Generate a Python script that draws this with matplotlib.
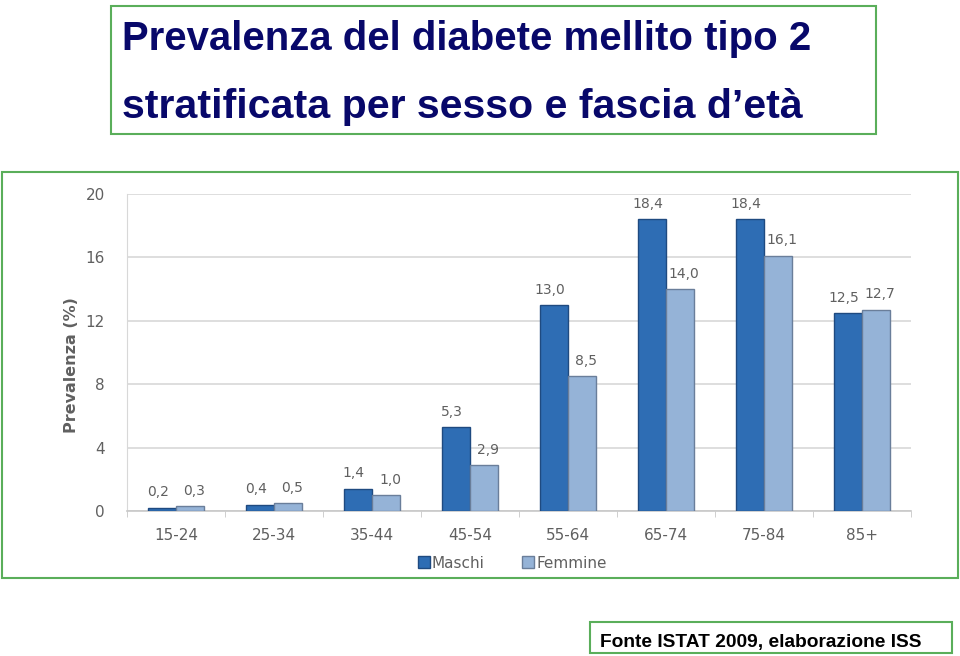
import matplotlib
matplotlib.use("Agg")
import matplotlib.pyplot as plt
from matplotlib.patches import Rectangle
from matplotlib.lines import Line2D
import numpy as np

categories = ["15-24", "25-34", "35-44", "45-54", "55-64", "65-74", "75-84", "85+"]
maschi = [0.2, 0.4, 1.4, 5.3, 13.0, 18.4, 18.4, 12.5]
femmine = [0.3, 0.5, 1.0, 2.9, 8.5, 14.0, 16.1, 12.7]
series_names = ["Maschi", "Femmine"]
yticks = [0, 4, 8, 12, 16, 20]

title_lines = ["Prevalenza del diabete mellito tipo 2",
               "stratificata per sesso e fascia d\u2019età"]
source = "Fonte ISTAT 2009, elaborazione ISS"

W, H = 960, 656
fig = plt.figure(figsize=(W / 100, H / 100), dpi=100)

def fx(px):
    return px / W

def fy(py):
    return 1 - py / H

green = "#5AAE5A"
gray_txt = "#606060"
c_m = "#2E6DB4"
c_m_edge = "#1F4A80"
c_f = "#95B3D7"
c_f_edge = "#6A7E9A"

# Title box
fig.patches.append(Rectangle((fx(111), fy(134)), fx(876) - fx(111), fy(6) - fy(134),
                             transform=fig.transFigure, fill=False, edgecolor=green, lw=1.5))
t1 = fig.text(fx(122), fy(50), title_lines[0], family="Liberation Sans",
              weight="bold", fontsize=28.9, color="#08086A", ha="left", va="baseline")
t2 = fig.text(fx(122), fy(118), title_lines[1], family="Liberation Sans",
              weight="bold", fontsize=29.6, color="#08086A", ha="left", va="baseline")

# Chart box
fig.patches.append(Rectangle((fx(2), fy(578)), fx(958) - fx(2), fy(172) - fy(578),
                             transform=fig.transFigure, fill=False, edgecolor=green, lw=1.5))

# Axes
ax = fig.add_axes([fx(127), fy(511), fx(911) - fx(127), fy(194) - fy(511)])
x = np.arange(len(categories))
bw = 0.286
b1 = ax.bar(x - bw / 2, maschi, bw, color=c_m, edgecolor=c_m_edge, lw=1.0, zorder=3)
b2 = ax.bar(x + bw / 2, femmine, bw, color=c_f, edgecolor=c_f_edge, lw=1.0, zorder=3)

def fmt(v):
    return f"{v:.1f}".replace(".", ",")

for bars, vals, dx in ((b1, maschi, -3), (b2, femmine, 3)):
    for rect, v in zip(bars, vals):
        ax.annotate(fmt(v), (rect.get_x() + rect.get_width() / 2, v),
                    xytext=(dx, 6), textcoords="offset points", ha="center", va="bottom",
                    fontsize=10, color=gray_txt, family="DejaVu Sans")

ax.set_xlim(-0.5, len(categories) - 0.5)
ax.set_ylim(0, 20)
ax.set_yticks(yticks)
ax.set_yticklabels([str(t) for t in yticks])
ax.set_xticks(x)
ax.set_xticklabels(categories)
ax.set_xticks(np.arange(-0.5, len(categories), 1.0), minor=True)
ax.tick_params(axis="x", which="major", length=0, pad=12, labelsize=11, labelcolor=gray_txt)
ax.tick_params(axis="x", which="minor", length=4, color="#C8C8C8", direction="out")
ax.tick_params(axis="y", length=0, pad=16, labelsize=11, labelcolor=gray_txt)
ax.grid(axis="y", color="#D8D8D8", lw=1.2, zorder=0)
for s in ["top", "right"]:
    ax.spines[s].set_visible(False)
ax.spines["left"].set_color("#D8D8D8")
ax.spines["bottom"].set_color("#C8C8C8")
ax.spines["bottom"].set_linewidth(1.2)

fig.text(fx(72), fy(365), "Prevalenza (%)", rotation=90, ha="center", va="center",
         fontsize=11.5, weight="bold", color=gray_txt, family="DejaVu Sans")

handles = [Line2D([], [], marker="s", linestyle="none", markersize=8, markerfacecolor=c_m,
                  markeredgecolor=c_m_edge),
           Line2D([], [], marker="s", linestyle="none", markersize=8, markerfacecolor=c_f,
                  markeredgecolor=c_f_edge)]
leg = fig.legend(handles, series_names, loc="center", bbox_to_anchor=(fx(512), fy(563)),
                 ncol=2, frameon=False, fontsize=11, handletextpad=0.1, columnspacing=2.5,
                 handlelength=0.8)
for t in leg.get_texts():
    t.set_color(gray_txt)

# Source box
fig.patches.append(Rectangle((fx(590), fy(653)), fx(952) - fx(590), fy(622) - fy(653),
                             transform=fig.transFigure, fill=False, edgecolor=green, lw=1.5))
fig.text(fx(600), fy(647), source, family="Liberation Sans", weight="bold", fontsize=13.8,
         color="black", ha="left", va="baseline")

fig.savefig("out.png", dpi=100)
